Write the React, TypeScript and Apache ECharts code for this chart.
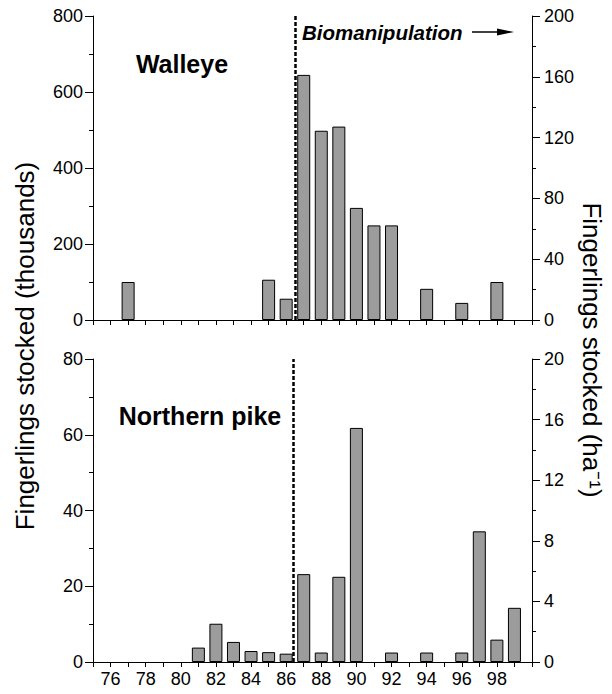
import React, { useEffect, useRef } from "react";
import * as echarts from "echarts";

const walleyeYears = [77, 85, 86, 87, 88, 89, 90, 91, 92, 94, 96, 98];
const walleyeValues = [100, 106, 56, 645, 498, 509, 295, 249, 249, 82, 45, 100];

const pikeYears = [81, 82, 83, 84, 85, 86, 87, 88, 89, 90, 92, 94, 96, 97, 98, 99];
const pikeValues = [3.8, 10.1, 5.3, 2.9, 2.6, 2.2, 23.2, 2.5, 22.5, 61.8, 2.5, 2.5, 2.5, 34.5, 5.9, 14.3];

const biomanipulationYear = 86.5;

const FONT = "'Liberation Sans', Arial, Helvetica, sans-serif";

export default function App() {
  const ref = useRef<HTMLDivElement>(null);

  useEffect(() => {
    if (!ref.current) return;
    const chart = echarts.init(ref.current, undefined, { renderer: "svg" });

    const axisCommon = {
      axisLine: { show: true, lineStyle: { color: "#000", width: 1 } },
      axisTick: { show: true, inside: false, length: 8, lineStyle: { color: "#000" } },
      minorTick: { show: true, splitNumber: 2, length: 4, lineStyle: { color: "#000" } },
      splitLine: { show: false },
      axisLabel: { color: "#000", fontSize: 18, fontFamily: FONT, margin: 10 },
    };

    const xCommon = (showLabels: boolean) => ({
      type: "value",
      min: 75,
      max: 100,
      interval: 1,
      axisLine: { show: true, onZero: false, lineStyle: { color: "#000", width: 1 } },
      axisTick: { show: true, length: 5, lineStyle: { color: "#000" } },
      splitLine: { show: false },
      axisLabel: {
        show: showLabels,
        color: "#000",
        fontSize: 18,
        fontFamily: FONT,
        margin: 8,
        formatter: (v: number) => (v % 2 === 0 && v >= 76 && v <= 98 ? String(v) : ""),
      },
    });

    const barStyle = {
      color: "#9c9c9c",
      borderColor: "#000",
      borderWidth: 1,
    };

    const markLine = (x: number) => ({
      silent: true,
      symbol: ["none", "none"],
      label: { show: false },
      lineStyle: { color: "#000", type: [4, 2], width: 2.5 },
      data: [{ xAxis: x }],
    });

    const textStyle = (text: string, font: string, align: string) => ({
      text,
      font,
      fill: "#000",
      textAlign: align,
      textVerticalAlign: "middle",
      align,
      verticalAlign: "middle",
    });

    chart.setOption({
      animation: false,
      grid: [
        { left: 93, top: 16, width: 439, height: 304 },
        { left: 93, top: 359, width: 439, height: 303 },
      ],
      xAxis: [
        { ...xCommon(false), gridIndex: 0 },
        { ...xCommon(true), gridIndex: 1 },
      ],
      yAxis: [
        { ...axisCommon, type: "value", gridIndex: 0, position: "left", min: 0, max: 800, interval: 200 },
        { ...axisCommon, type: "value", gridIndex: 0, position: "right", min: 0, max: 200, interval: 40,
          axisLabel: { ...axisCommon.axisLabel, margin: 12 } },
        { ...axisCommon, type: "value", gridIndex: 1, position: "left", min: 0, max: 80, interval: 20 },
        { ...axisCommon, type: "value", gridIndex: 1, position: "right", min: 0, max: 20, interval: 4,
          axisLabel: { ...axisCommon.axisLabel, margin: 12 } },
      ],
      series: [
        {
          type: "bar",
          name: "Walleye",
          xAxisIndex: 0,
          yAxisIndex: 0,
          barWidth: 13,
          itemStyle: barStyle,
          data: walleyeYears.map((y, i) => [y, walleyeValues[i]]),
          markLine: markLine(biomanipulationYear),
        },
        {
          type: "bar",
          name: "Northern pike",
          xAxisIndex: 1,
          yAxisIndex: 2,
          barWidth: 13,
          itemStyle: barStyle,
          data: pikeYears.map((y, i) => [y, pikeValues[i]]),
          markLine: markLine(biomanipulationYear - 0.1),
        },
      ],
      graphic: [
        { type: "text", x: 182, y: 64, style: textStyle("Walleye", `bold 25px ${FONT}`, "center") },
        { type: "text", x: 200, y: 416, style: textStyle("Northern pike", `bold 25px ${FONT}`, "center") },
        { type: "text", x: 302, y: 32, style: textStyle("Biomanipulation", `italic bold 20.5px ${FONT}`, "left") },
        {
          type: "line",
          shape: { x1: 472, y1: 32, x2: 502, y2: 32 },
          style: { stroke: "#000", lineWidth: 1.5 },
        },
        {
          type: "polygon",
          shape: { points: [[497, 28.5], [514, 32], [497, 35.5]] },
          style: { fill: "#000" },
        },
        {
          type: "text",
          x: 25,
          y: 346,
          rotation: Math.PI / 2,
          style: textStyle("Fingerlings stocked (thousands)", `26px ${FONT}`, "center"),
        },
        {
          type: "text",
          x: 592,
          y: 350,
          rotation: -Math.PI / 2,
          style: textStyle("Fingerlings stocked (ha\u207B\u00B9)", `26px ${FONT}`, "center"),
        },
      ],
    });

    return () => chart.dispose();
  }, []);

  return (
    <div
      ref={ref}
      style={{ position: "absolute", left: 0, top: 0, width: 612, height: 694, background: "#fff" }}
    />
  );
}
